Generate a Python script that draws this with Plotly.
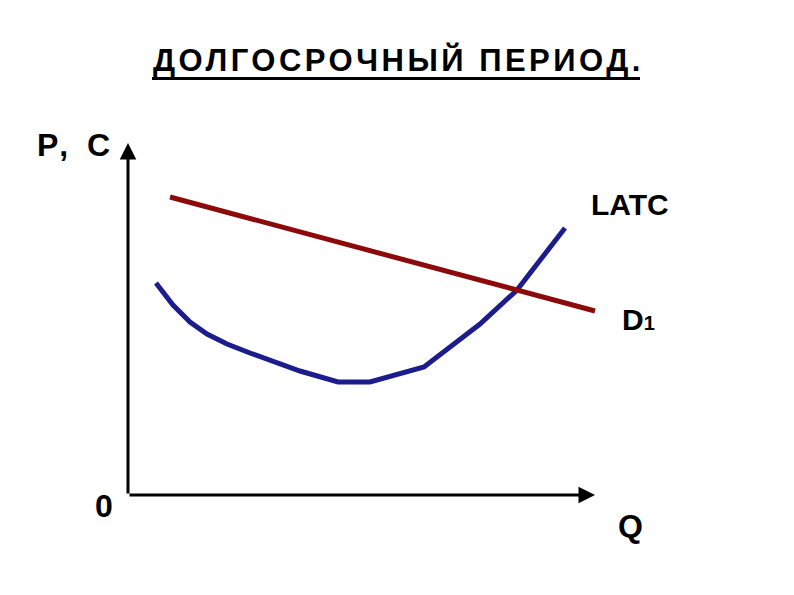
import plotly.graph_objects as go

# LATC curve (Q, cost)
latc_q = [5.6, 9.0, 12.4, 15.8, 19.8, 24.4, 34.4, 42.0, 48.4, 59.2, 70.4, 77.8, 87.4]
latc_c = [42.4, 38.0, 34.6, 32.2, 30.2, 28.4, 24.8, 22.6, 22.6, 25.6, 34.2, 41.0, 53.4]
# Demand D1 (Q, price)
d1_q = [8.4, 93.4]
d1_p = [59.6, 36.8]

AX_Q_MAX = 93.4
AX_P_MAX = 70.4

FONT = "Liberation Sans, Arial, sans-serif"

# page is offset by the 8px body margin
OFF = 8
W, H = 794 - OFF, 595 - OFF


def px(xp, yp):
    return (xp - OFF) / W, 1 - (yp - OFF) / H


fig = go.Figure()
fig.add_trace(go.Scatter(x=latc_q, y=latc_c, mode="lines",
                         line=dict(color="#1c1c8c", width=5), showlegend=False,
                         hoverinfo="skip"))
fig.add_trace(go.Scatter(x=d1_q, y=d1_p, mode="lines",
                         line=dict(color="#8c0a0a", width=5), showlegend=False,
                         hoverinfo="skip"))

anns = []
# axes with arrows
anns.append(dict(x=0, y=AX_P_MAX, ax=0, ay=0, xref="x", yref="y", axref="x", ayref="y",
                 showarrow=True, arrowhead=2, arrowsize=1.1, arrowwidth=3, arrowcolor="black", text=""))
anns.append(dict(x=AX_Q_MAX, y=0, ax=0, ay=0, xref="x", yref="y", axref="x", ayref="y",
                 showarrow=True, arrowhead=2, arrowsize=1.1, arrowwidth=3, arrowcolor="black", text=""))


def label(txt, x, y, size=30):
    fx, fy = px(x, y)
    anns.append(dict(x=fx, y=fy, xref="paper", yref="paper", text=txt, showarrow=False,
                     xanchor="center", yanchor="middle",
                     font=dict(family=FONT, size=size, color="black")))


label("<span style='letter-spacing:3.5px'><b>ДОЛГОСРОЧНЫЙ ПЕРИОД.</b></span>", 398, 60, size=31)
label("<span style='letter-spacing:5px'><b>P, C</b></span>", 76, 145, size=32)
label("<b>LATC</b>", 630, 204, size=30)
label("<b>D</b><span style='font-size:20px'><b>1</b></span>", 638, 319, size=30)
label("<b>0</b>", 103.5, 506, size=32)
label("<b>Q</b>", 630, 526, size=32)

ux0, uy = px(152, 78.5)
ux1, _ = px(640, 78.5)
shapes = [dict(type="line", xref="paper", yref="paper", x0=ux0, x1=ux1, y0=uy, y1=uy,
               line=dict(color="black", width=3))]

fig.update_layout(
    width=W, height=H,
    margin=dict(l=0, r=0, t=0, b=0),
    paper_bgcolor="white", plot_bgcolor="white",
    xaxis=dict(range=[(OFF - 128) / 5, (794 - 128) / 5], visible=False, fixedrange=True),
    yaxis=dict(range=[(495 - 595) / 5, (495 - OFF) / 5], visible=False, fixedrange=True),
    annotations=anns,
    shapes=shapes,
)

fig.write_html("out.html")
